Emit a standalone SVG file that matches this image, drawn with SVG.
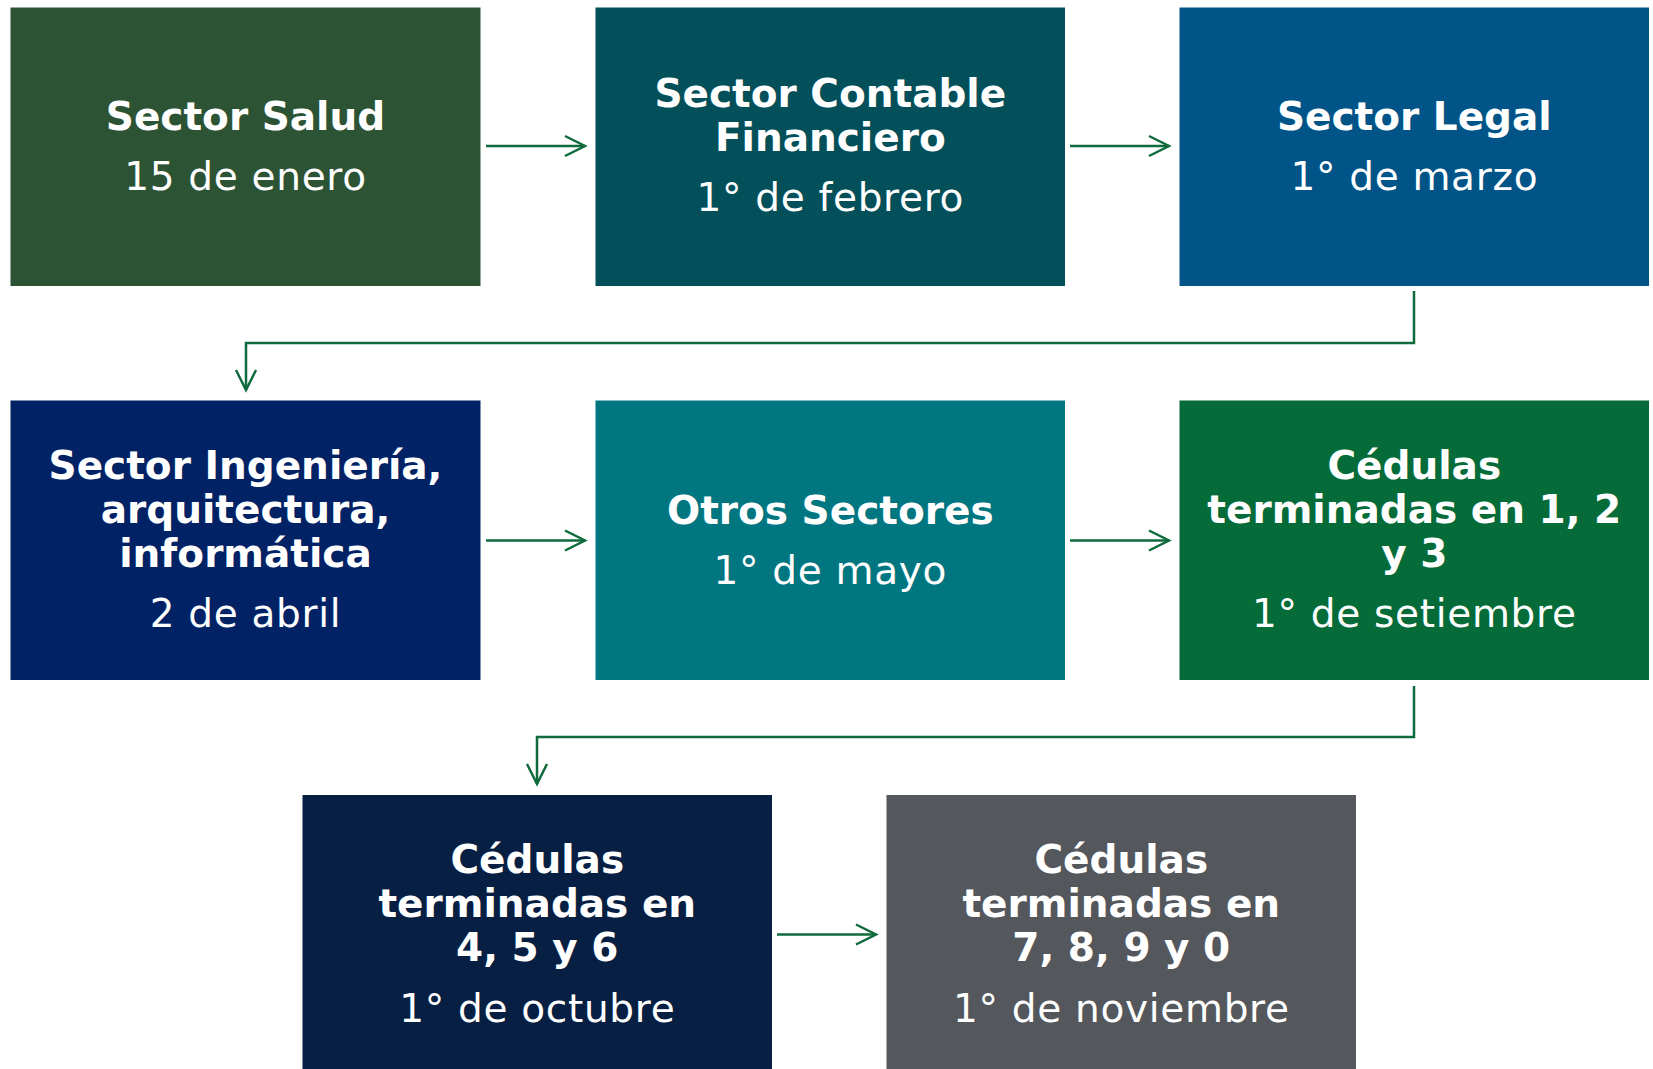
<svg xmlns="http://www.w3.org/2000/svg" width="1653" height="1069" viewBox="0 0 1653 1069">
<defs>
<style>
.box{stroke:none}
.t{font-family:"DejaVu Sans",Verdana,sans-serif;font-weight:bold;font-size:39px;fill:#ffffff;text-anchor:middle}
.s{font-family:"DejaVu Sans",Verdana,sans-serif;font-weight:normal;font-size:39px;letter-spacing:0.7px;fill:#ffffff;text-anchor:middle}
.c{fill:none;stroke:#0f6b3b;stroke-width:2.5}
</style>
<marker id="ah" viewBox="0 0 24 24" refX="21" refY="12" markerWidth="24" markerHeight="24" markerUnits="userSpaceOnUse" orient="auto">
<path d="M1,2 L21,12 L1,22" fill="none" stroke="#0f6b3b" stroke-width="2.5"/>
</marker>
</defs>
<rect width="1653" height="1069" fill="#ffffff"/>
<g id="connectors">
<line class="c" x1="486" y1="146" x2="585" y2="146" marker-end="url(#ah)"/>
<line class="c" x1="1070" y1="146" x2="1169" y2="146" marker-end="url(#ah)"/>
<polyline class="c" points="1414,291 1414,343 246,343 246,390" marker-end="url(#ah)"/>
<line class="c" x1="486" y1="540.5" x2="585" y2="540.5" marker-end="url(#ah)"/>
<line class="c" x1="1070" y1="540.5" x2="1169" y2="540.5" marker-end="url(#ah)"/>
<polyline class="c" points="1414,686 1414,737 537,737 537,784" marker-end="url(#ah)"/>
<line class="c" x1="777" y1="934.5" x2="876" y2="934.5" marker-end="url(#ah)"/>
</g>
<g id="n1">
<rect class="box" x="10.5" y="7.5" width="470" height="278.5" fill="#2d5335"/>
<text class="t" x="245.5" y="130">Sector Salud</text>
<text class="s" x="245.5" y="190">15 de enero</text>
</g>
<g id="n2">
<rect class="box" x="595.5" y="7.5" width="469.5" height="278.5" fill="#034f5a"/>
<text class="t" x="830.3" y="106.7">Sector Contable</text>
<text class="t" x="830.3" y="150.7">Financiero</text>
<text class="s" x="830.3" y="211.3">1° de febrero</text>
</g>
<g id="n3">
<rect class="box" x="1179.5" y="7.5" width="469.5" height="278.5" fill="#005487"/>
<text class="t" x="1414.3" y="130">Sector Legal</text>
<text class="s" x="1414.3" y="190">1° de marzo</text>
</g>
<g id="n4">
<rect class="box" x="10.5" y="400.5" width="470" height="279.5" fill="#022266"/>
<text class="t" x="245.5" y="479.3">Sector Ingeniería,</text>
<text class="t" x="245.5" y="523.3">arquitectura,</text>
<text class="t" x="245.5" y="566.7">informática</text>
<text class="s" x="245.5" y="627.3">2 de abril</text>
</g>
<g id="n5">
<rect class="box" x="595.5" y="400.5" width="469.5" height="279.5" fill="#007681"/>
<text class="t" x="830.3" y="523.5">Otros Sectores</text>
<text class="s" x="830.3" y="583.5">1° de mayo</text>
</g>
<g id="n6">
<rect class="box" x="1179.5" y="400.5" width="469.5" height="279.5" fill="#056b39"/>
<text class="t" x="1414.3" y="479.3">Cédulas</text>
<text class="t" x="1414.3" y="523.3">terminadas en 1, 2</text>
<text class="t" x="1414.3" y="566.7">y 3</text>
<text class="s" x="1414.3" y="627.3">1° de setiembre</text>
</g>
<g id="n7">
<rect class="box" x="302.5" y="795" width="469.5" height="280" fill="#061f42"/>
<text class="t" x="537.3" y="873.3">Cédulas</text>
<text class="t" x="537.3" y="917.3">terminadas en</text>
<text class="t" x="537.3" y="960.7">4, 5 y 6</text>
<text class="s" x="537.3" y="1021.5">1° de octubre</text>
</g>
<g id="n8">
<rect class="box" x="886.5" y="795" width="469.5" height="280" fill="#54575c"/>
<text class="t" x="1121.3" y="873.3">Cédulas</text>
<text class="t" x="1121.3" y="917.3">terminadas en</text>
<text class="t" x="1121.3" y="960.7">7, 8, 9 y 0</text>
<text class="s" x="1121.3" y="1021.5">1° de noviembre</text>
</g>
</svg>
